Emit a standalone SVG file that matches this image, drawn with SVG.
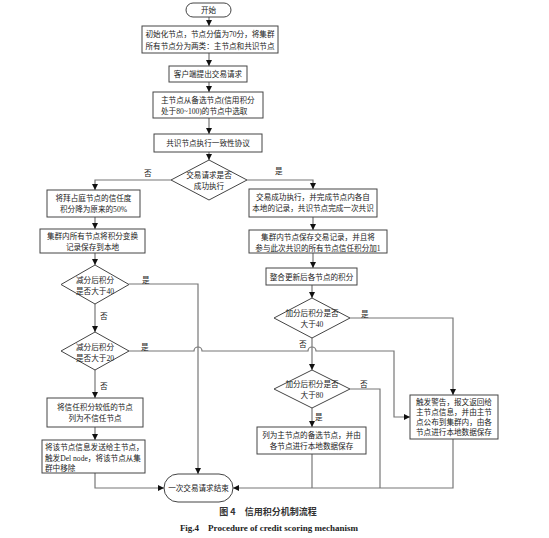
<svg xmlns="http://www.w3.org/2000/svg" width="549" height="538" viewBox="0 0 549 538">
<style>
.b{fill:#fff;stroke:#444;stroke-width:1}
.c{fill:none;stroke:#777;stroke-width:1.2}
.t{font-family:"Liberation Serif","Noto Sans CJK SC",serif;font-size:7.6px;fill:#222;text-anchor:middle}
.l{font-family:"Liberation Serif","Noto Sans CJK SC",serif;font-size:7.6px;fill:#222}
.cap1{font-family:"Noto Sans CJK SC",sans-serif;font-size:9px;font-weight:bold;fill:#333;text-anchor:middle}
.cap2{font-family:"Liberation Serif",serif;font-size:9px;font-weight:bold;fill:#222;text-anchor:middle}
</style>
<defs>
<marker id="a" viewBox="0 0 10 10" refX="10" refY="5" markerWidth="6" markerHeight="6" markerUnits="userSpaceOnUse" orient="auto">
<path d="M0,0L10,5L0,10z" fill="#111"/>
</marker>
</defs>
<rect width="549" height="538" fill="#fff"/>
<g id="connectors" marker-end="url(#a)">
<path class="c" d="M209,17V26"/>
<path class="c" d="M209,53V66"/>
<path class="c" d="M209,82V92"/>
<path class="c" d="M209,118V134"/>
<path class="c" d="M209,152V160"/>
<path class="c" d="M171,180H95V190"/>
<path class="c" d="M95,217V229"/>
<path class="c" d="M95,253V265"/>
<path class="c" d="M129,284H198V474"/>
<path class="c" d="M95,304V332"/>
<path class="c" d="M129,351H194a4,4 0 0 1 8,0H308a4,4 0 0 1 8,0H394V417H410"/>
<path class="c" d="M95,370V398"/>
<path class="c" d="M95,427V440"/>
<path class="c" d="M95,473V488H164"/>
<path class="c" d="M247,180H313V189"/>
<path class="c" d="M313,217V230"/>
<path class="c" d="M313,253V268"/>
<path class="c" d="M312,285V298"/>
<path class="c" d="M350,318H453V395"/>
<path class="c" d="M312,338V370"/>
<path class="c" d="M312,408V427"/>
<path class="c" d="M350,389H380V488" marker-end="none"/>
<path class="c" d="M312,454V488" marker-end="none"/>
<path class="c" d="M453,439V488H233"/>
</g>
<g id="labels">
<text class="l" x="144" y="176">否</text>
<text class="l" x="275" y="174">是</text>
<text class="l" x="142" y="283">是</text>
<text class="l" x="100" y="319">否</text>
<text class="l" x="141" y="350">是</text>
<text class="l" x="100" y="389">否</text>
<text class="l" x="361" y="317">是</text>
<text class="l" x="299" y="347">否</text>
<text class="l" x="360" y="387">否</text>
<text class="l" x="315" y="420">是</text>
</g>
<g id="start"><rect class="b" x="186" y="3" width="45" height="14" rx="7"/><text class="t" x="208.5" y="13">开始</text></g>
<g id="init"><rect class="b" x="142" y="26" width="136" height="27"/><text class="t" x="210" y="37">初始化节点，节点分值为70分，将集群</text><text class="t" x="210" y="48.5">所有节点分为两类：主节点和共识节点</text></g>
<g id="request"><rect class="b" x="169" y="66" width="78" height="16"/><text class="t" x="208" y="77">客户端提出交易请求</text></g>
<g id="select"><rect class="b" x="153" y="92" width="110" height="26"/><text class="l" x="161" y="103">主节点从备选节点(信用积分</text><text class="l" x="161" y="114">处于80~100)的节点中选取</text></g>
<g id="consensus"><rect class="b" x="154" y="134" width="108" height="18"/><text class="t" x="208" y="146">共识节点执行一致性协议</text></g>
<g id="d_success"><polygon class="b" points="209,160 247,180 209,200 171,180"/><text class="t" x="209" y="178">交易请求是否</text><text class="t" x="209" y="189">成功执行</text></g>
<g id="halve"><rect class="b" x="47" y="190" width="93" height="27"/><text class="t" x="93.5" y="201">将拜占庭节点的信任度</text><text class="t" x="93.5" y="212">积分降为原来的50%</text></g>
<g id="record_l"><rect class="b" x="40" y="229" width="105" height="24"/><text class="t" x="92.5" y="239">集群内所有节点将积分变换</text><text class="t" x="92.5" y="250">记录保存到本地</text></g>
<g id="d_gt40_l"><polygon class="b" points="95,265 129,284.5 95,304 61,284.5"/><text class="t" x="95" y="283">减分后积分</text><text class="t" x="95" y="294">是否大于40</text></g>
<g id="d_gt20"><polygon class="b" points="95,332 129,351 95,370 61,351"/><text class="t" x="95" y="350">减分后积分</text><text class="t" x="95" y="361">是否大于20</text></g>
<g id="untrust"><rect class="b" x="47" y="398" width="96" height="29"/><text class="t" x="95" y="410">将信任积分较低的节点</text><text class="t" x="95" y="421">列为不信任节点</text></g>
<g id="remove"><rect class="b" x="42" y="440" width="103" height="33"/><text class="l" x="45" y="450">将该节点信息发送给主节点，</text><text class="l" x="45" y="461">触发Del node，将该节点从集</text><text class="l" x="45" y="471">群中移除</text></g>
<g id="end"><rect class="b" x="164" y="474" width="69" height="28" rx="14"/><text class="t" x="198.5" y="491">一次交易请求结束</text></g>
<g id="success"><rect class="b" x="249" y="189" width="128" height="28"/><text class="t" x="313" y="200">交易成功执行，并完成节点内各自</text><text class="t" x="313" y="211">本地的记录，共识节点完成一次共识</text></g>
<g id="add1"><rect class="b" x="249" y="230" width="138" height="23"/><text class="t" x="318" y="240">集群内节点保存交易记录，并且将</text><text class="t" x="318" y="250.5">参与此次共识的所有节点信任积分加1</text></g>
<g id="update"><rect class="b" x="266" y="268" width="91" height="17"/><text class="t" x="311.5" y="279.5">整合更新后各节点的积分</text></g>
<g id="d_gt40_r"><polygon class="b" points="312,298 350,318 312,338 274,318"/><text class="t" x="312" y="316">加分后积分是否</text><text class="t" x="312" y="327">大于40</text></g>
<g id="d_gt80"><polygon class="b" points="312,370 350,389 312,408 274,389"/><text class="t" x="312" y="387">加分后积分是否</text><text class="t" x="312" y="398">大于80</text></g>
<g id="candidate"><rect class="b" x="257" y="427" width="109" height="27"/><text class="t" x="311.5" y="438">列为主节点的备选节点，并由</text><text class="t" x="311.5" y="449">各节点进行本地数据保存</text></g>
<g id="warning"><rect class="b" x="410" y="395" width="88" height="44"/><text class="t" x="454" y="405">触发警告，报文返回给</text><text class="t" x="454" y="415">主节点信息，并由主节</text><text class="t" x="454" y="425">点公布到集群内，由各</text><text class="t" x="454" y="435">节点进行本地数据保存</text></g>
<g id="caption"><text class="cap1" x="268" y="515">图 4　信用积分机制流程</text><text class="cap2" x="269" y="531">Fig.4　Procedure of credit scoring mechanism</text></g>
</svg>
